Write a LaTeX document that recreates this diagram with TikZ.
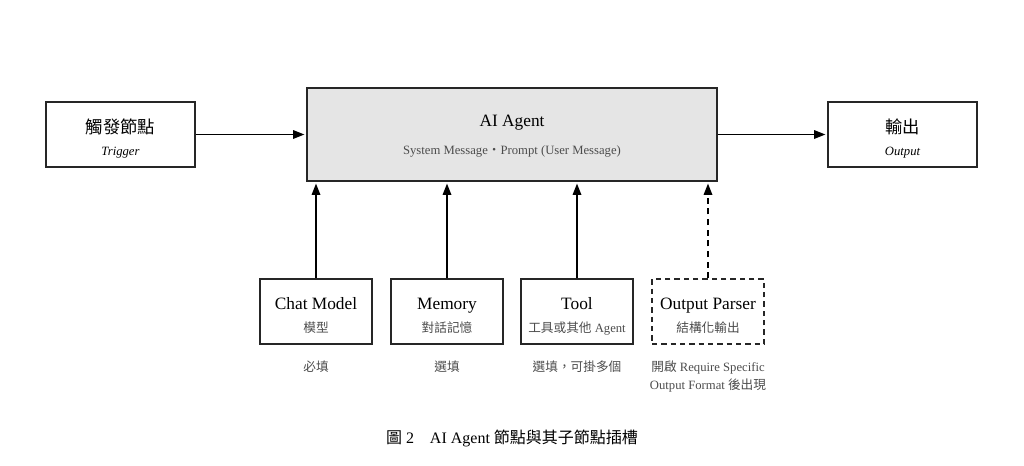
\documentclass[tikz,border=0pt]{standalone}
\usepackage{fontspec}
\setmainfont{Liberation Serif}
\newfontfamily\cjk{Noto Sans CJK TC}
\usetikzlibrary{positioning, arrows.meta}

\begin{document}
\begin{tikzpicture}[x=0.75pt, y=-0.75pt,
    box/.style={draw=black!85, line width=0.9pt, minimum width=111.75pt, minimum height=48.75pt, inner sep=0pt},
    slot/.style={box, minimum width=84pt},
    title/.style={font=\fontsize{13}{15}\selectfont, text height=0.7em, text depth=0pt, inner sep=0pt},
    sub/.style={font=\fontsize{9.5}{12}\selectfont, text=black!70, text height=0.7em, text depth=0pt, inner sep=0pt},
    note/.style={font=\fontsize{9.5}{13.5}\selectfont, text=black!70, align=center, anchor=north, inner sep=0pt},
    link/.style={-{Triangle[length=8.5pt,width=6.5pt]}, line width=0.9pt, shorten >=1.5pt}]
    \useasboundingbox (0,0) rectangle (1024,465);

    % main row
    \node (Trigger) [box] at (120.5,134.5) {};
    \node (Agent) [box, fill=black!10, minimum width=307.5pt, minimum height=69.75pt] at (512,134.5) {};
    \node (Output) [box] at (902.5,134.5) {};
    \node (TriggerT) [title] at (120.5,129) {\cjk 觸發節點};
    \node (TriggerS) [sub, text=black] at (120.5,151) {\itshape Trigger};
    \node (AgentT) [title] at (512,122) {AI Agent};
    \node (AgentS) [sub] at (512,150) {System Message{\cjk ・}Prompt (User Message)};
    \node (OutputT) [title] at (902.5,129) {\cjk 輸出};
    \node (OutputS) [sub, text=black] at (902.5,151) {\itshape Output};
    \draw [link] (Trigger.east) -- (Agent.west);
    \draw [link] (Agent.east) -- (Output.west);

    % sub-node slots
    \node (Model) [slot] at (316,311.5) {};
    \node (Memory) [slot] at (447,311.5) {};
    \node (Tool) [slot] at (577,311.5) {};
    \node (Parser) [slot, dashed, dash pattern=on 4pt off 3pt] at (708,311.5) {};
    \node (ModelT) [title] at (316,305) {Chat Model};
    \node (ModelS) [sub] at (316,328) {\cjk 模型};
    \node (MemoryT) [title] at (447,305) {Memory};
    \node (MemoryS) [sub] at (447,328) {\cjk 對話記憶};
    \node (ToolT) [title] at (577,305) {Tool};
    \node (ToolS) [sub] at (577,328) {{\cjk 工具或其他} Agent};
    \node (ParserT) [title] at (708,305) {Output Parser};
    \node (ParserS) [sub] at (708,328) {\cjk 結構化輸出};
    \draw [link] (Model.north) -- (Model.north |- Agent.south);
    \draw [link] (Memory.north) -- (Memory.north |- Agent.south);
    \draw [link] (Tool.north) -- (Tool.north |- Agent.south);
    \draw [link, dashed, dash pattern=on 4.5pt off 3.5pt] (Parser.north) -- (Parser.north |- Agent.south);

    % notes
    \node (ModelN) [note] at (316,361) {\cjk 必填};
    \node (MemoryN) [note] at (447,361) {\cjk 選填};
    \node (ToolN) [note] at (577,361) {\cjk 選填，可掛多個};
    \node (ParserN) [note] at (708,361) {{\cjk 開啟} Require Specific\\Output Format {\cjk 後出現}};

    % caption
    \node (Caption) [font=\fontsize{12}{14}\selectfont] at (512,438) {{\cjk 圖} 2\quad AI Agent {\cjk 節點與其子節點插槽}};
\end{tikzpicture}
\end{document}
